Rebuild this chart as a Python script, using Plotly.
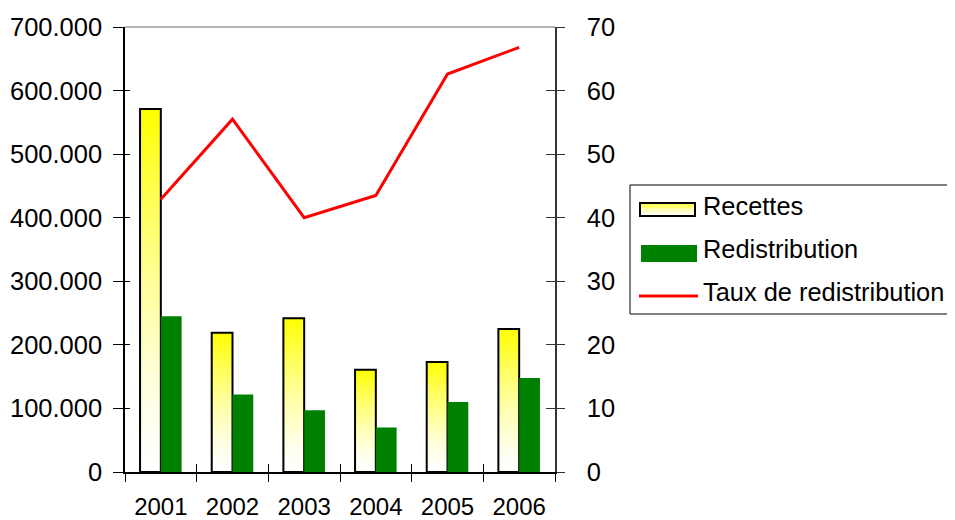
import plotly.graph_objects as go

years = ["2001", "2002", "2003", "2004", "2005", "2006"]
recettes = [571000, 219000, 242000, 161000, 173000, 225000]
redistribution = [245000, 122000, 97000, 70000, 110000, 148000]
taux = [42.9, 55.5, 40.0, 43.5, 62.6, 66.8]

left_tickvals = [0, 100000, 200000, 300000, 400000, 500000, 600000, 700000]
left_ticktext = ["0", "100.000", "200.000", "300.000", "400.000", "500.000", "600.000", "700.000"]
right_tickvals = [0, 10, 20, 30, 40, 50, 60, 70]
right_ticktext = ["0", "10", "20", "30", "40", "50", "60", "70"]

legend_names = ["Recettes", "Redistribution", "Taux de redistribution"]

FONT = "Liberation Sans, Arial, sans-serif"
N = 40
BW = 0.29


def grad_color(t):
    b = int(round(255 * (1 - t ** 1.4)))
    return f"rgb(255,255,{b})"


fig = go.Figure()

# gradient Recettes bars: each layer spans from its base to the top of the bar
for i in range(N):
    frac = i / N
    fig.add_trace(go.Bar(
        x=years, y=[v * (1 - frac) for v in recettes], base=[v * frac for v in recettes],
        offset=-BW, width=BW, marker=dict(color=grad_color((i + 0.5) / N), line=dict(width=0)),
        showlegend=False, hoverinfo="skip"))

# outline of Recettes
fig.add_trace(go.Bar(
    x=years, y=recettes, offset=-BW, width=BW, name=legend_names[0],
    marker=dict(color="rgba(0,0,0,0)", line=dict(color="black", width=2)),
    showlegend=False))

# Redistribution
fig.add_trace(go.Bar(
    x=years, y=redistribution, offset=0, width=BW, name=legend_names[1],
    marker=dict(color="#008000", line=dict(width=0)), showlegend=False))

# Taux
fig.add_trace(go.Scatter(
    x=years, y=taux, yaxis="y2", mode="lines", name=legend_names[2],
    line=dict(color="#FF0000", width=3), showlegend=False))

# invisible helper traces for inner tick marks
fig.add_trace(go.Scatter(x=years, y=[0] * 6, xaxis="x2", yaxis="y3", mode="markers",
                         marker=dict(opacity=0), showlegend=False, hoverinfo="skip"))
fig.add_trace(go.Scatter(x=years, y=[0] * 6, xaxis="x", yaxis="y4", mode="markers",
                         marker=dict(opacity=0), showlegend=False, hoverinfo="skip"))

tickfont = dict(family=FONT, size=25.5, color="black")

# page has an 8px body margin; figure coordinates are page coordinates minus 8
OFF = 8
W, H = 955 - OFF, 520 - OFF
L, T = 125 - OFF, 27 - OFF
R = W - (555 - OFF)
B = H - (472 - OFF)
pw = W - L - R
ph = H - T - B


def px(x):
    return (x - OFF - L) / pw


def py(y):
    return (H - B - (y - OFF)) / ph


shapes = []
annotations = []
# top frame line of plot area
shapes.append(dict(type="line", xref="paper", yref="paper", x0=0, x1=1, y0=1, y1=1,
                   line=dict(color="#999999", width=1.5)))
# legend box (right side runs past the window edge)
box = dict(xref="paper", yref="paper", line=dict(color="black", width=1))
shapes.append(dict(type="line", x0=px(630), x1=px(990), y0=py(185), y1=py(185), **box))
shapes.append(dict(type="line", x0=px(630), x1=px(990), y0=py(314), y1=py(314), **box))
shapes.append(dict(type="line", x0=px(630), x1=px(630), y0=py(314), y1=py(185), **box))
# Recettes gradient symbol
ng = 10
y_top, y_bot = 203, 216
for k in range(ng):
    ya = y_top + (y_bot - y_top) * k / ng
    yb = y_top + (y_bot - y_top) * (k + 1) / ng
    shapes.append(dict(type="rect", xref="paper", yref="paper", x0=px(640), x1=px(695),
                       y0=py(yb), y1=py(ya), line=dict(width=0),
                       fillcolor=grad_color(1 - (k + 0.5) / ng)))
shapes.append(dict(type="rect", xref="paper", yref="paper", x0=px(640), x1=px(695),
                   y0=py(y_bot), y1=py(y_top), line=dict(color="black", width=2)))
# Redistribution symbol
shapes.append(dict(type="rect", xref="paper", yref="paper", x0=px(641), x1=px(697),
                   y0=py(262), y1=py(245), line=dict(width=0), fillcolor="#008000"))
# Taux symbol
shapes.append(dict(type="line", xref="paper", yref="paper", x0=px(639), x1=px(698),
                   y0=py(296), y1=py(296), line=dict(color="#FF0000", width=3)))

for name, yc in zip(legend_names, [206, 249, 292]):
    annotations.append(dict(text=name, xref="paper", yref="paper", x=px(701), y=py(yc),
                            xanchor="left", yanchor="middle", showarrow=False,
                            font=dict(family=FONT, size=25.4, color="black")))

fig.update_layout(
    width=W, height=H,
    margin=dict(l=L, r=R, t=T, b=B, autoexpand=False),
    paper_bgcolor="white", plot_bgcolor="white",
    barmode="overlay",
    showlegend=False,
    font=dict(family=FONT, color="black"),
    xaxis=dict(type="category", range=[-0.5, 5.5], showgrid=False, zeroline=False,
               showline=True, linecolor="black", linewidth=1.5,
               ticks="outside", ticklen=8, tickwidth=1, tickcolor="black", tickson="boundaries",
               tickfont=dict(family=FONT, size=24, color="black"), ticklabelstandoff=12),
    xaxis2=dict(type="category", overlaying="x", anchor="y", range=[-0.5, 5.5], showgrid=False,
                zeroline=False, showline=False, ticks="inside", ticklen=8, tickwidth=1,
                tickcolor="black", tickson="boundaries", showticklabels=False, side="bottom"),
    yaxis=dict(range=[0, 700000], tickvals=left_tickvals, ticktext=left_ticktext,
               showgrid=False, zeroline=False, showline=True, linecolor="black", linewidth=1.5,
               ticks="outside", ticklen=10, tickwidth=1, tickcolor="black",
               tickfont=tickfont, ticklabelstandoff=6),
    yaxis2=dict(range=[0, 70], tickvals=right_tickvals, ticktext=right_ticktext,
                overlaying="y", side="right", anchor="x",
                showgrid=False, zeroline=False, showline=True, linecolor="#333333", linewidth=1.5,
                ticks="outside", ticklen=8, tickwidth=1, tickcolor="#333333",
                tickfont=tickfont, ticklabelstandoff=17),
    yaxis3=dict(range=[0, 700000], tickvals=left_tickvals, overlaying="y", side="left", anchor="x2",
                showgrid=False, zeroline=False, showline=False, ticks="inside", ticklen=5,
                tickwidth=1, tickcolor="black", showticklabels=False),
    yaxis4=dict(range=[0, 70], tickvals=right_tickvals, overlaying="y", side="right", anchor="x",
                showgrid=False, zeroline=False, showline=False, ticks="inside", ticklen=9,
                tickwidth=1, tickcolor="#333333", showticklabels=False),
    shapes=shapes,
    annotations=annotations,
)

fig.write_html("out.html")
